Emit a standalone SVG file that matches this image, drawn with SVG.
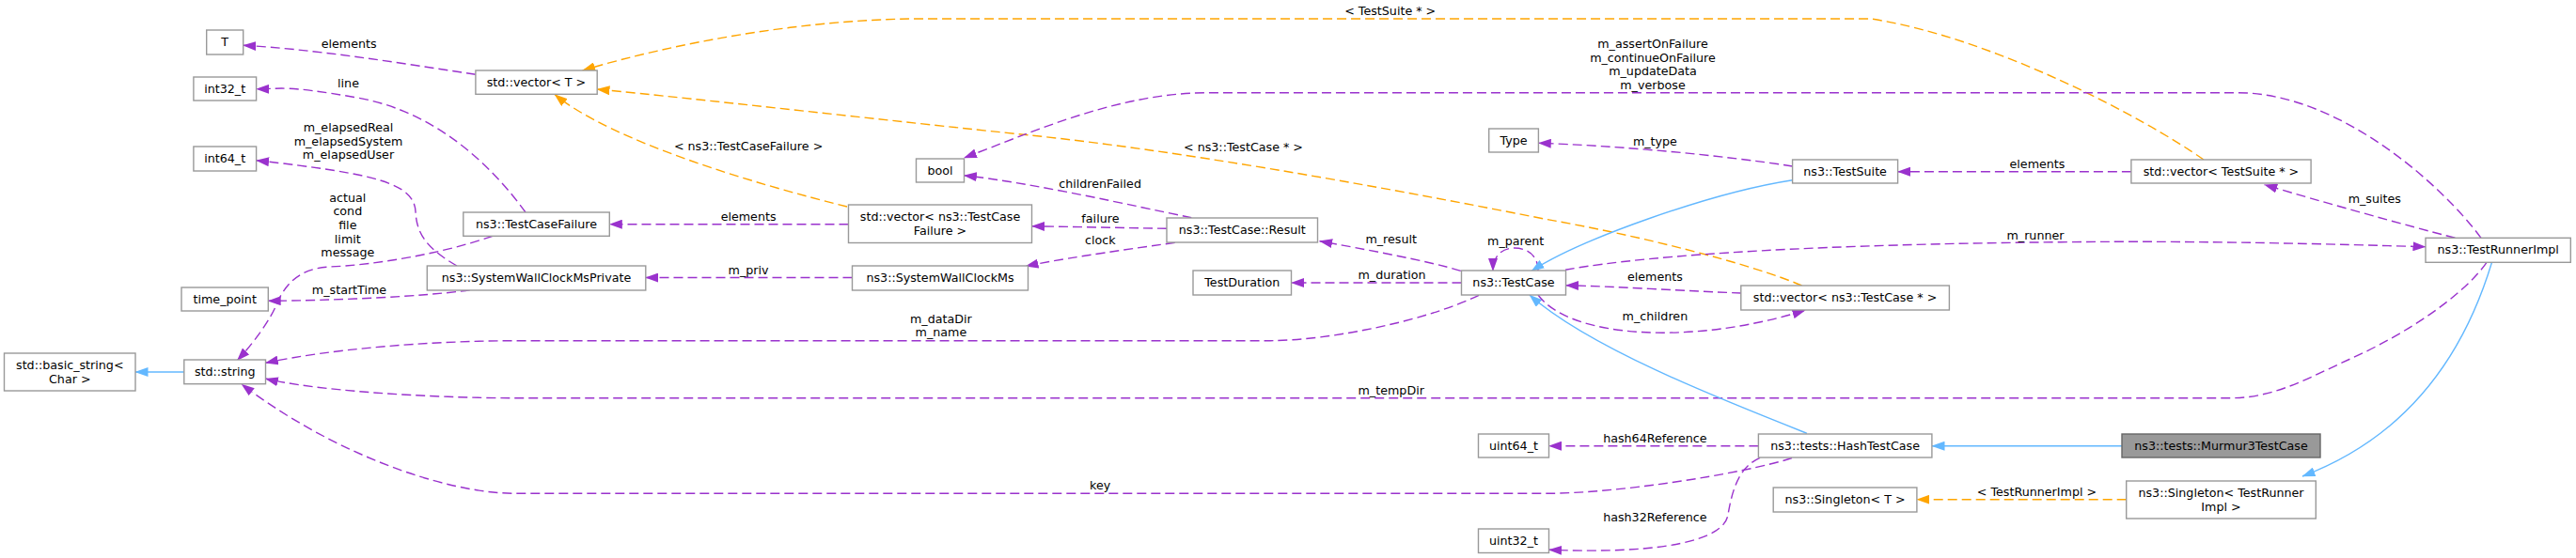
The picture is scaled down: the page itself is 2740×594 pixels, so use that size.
<svg xmlns="http://www.w3.org/2000/svg" width="2740" height="594" viewBox="0 0 2740 594">
<style>
.n rect{fill:#ffffff;stroke:#999999;stroke-width:1.4}
.hl rect{fill:#999999;stroke:#666666}
text{font-family:"DejaVu Sans","Liberation Sans",sans-serif;font-size:12.7px;fill:#000000;text-anchor:middle}
.e path{fill:none;stroke-width:1.4}
.e .p{stroke:#9a32cd;stroke-dasharray:10,5;marker-end:url(#ap)}
.e .o{stroke:#ffa500;stroke-dasharray:10,5;marker-end:url(#ao)}
.e .b{stroke:#63b8ff;marker-end:url(#ab)}
</style>
<defs>
<marker id="ap" viewBox="0 0 14 10" refX="13.5" refY="5" markerWidth="14" markerHeight="10" markerUnits="userSpaceOnUse" orient="auto"><path d="M0,0L14,5L0,10z" fill="#9a32cd"/></marker>
<marker id="ao" viewBox="0 0 14 10" refX="13.5" refY="5" markerWidth="14" markerHeight="10" markerUnits="userSpaceOnUse" orient="auto"><path d="M0,0L14,5L0,10z" fill="#ffa500"/></marker>
<marker id="ab" viewBox="0 0 14 10" refX="13.5" refY="5" markerWidth="14" markerHeight="10" markerUnits="userSpaceOnUse" orient="auto"><path d="M0,0L14,5L0,10z" fill="#63b8ff"/></marker>
</defs>
<rect width="2740" height="594" fill="#ffffff"/>
<g id="edges" class="e">
<path class="b" d="M195.8,396L144,396"/>
<path class="p" d="M505.9,79.3C420,66 330,52 258.7,48.3"/>
<path class="p" d="M559,226C520,172 460,118 380,104S300,95 272.6,94.7"/>
<path class="p" d="M486,283C455,265 443,250 442,225C440,195 400,185 272.6,170.7"/>
<path class="p" d="M524,251.3C470,270 400,282 350,284C320,286 305,300 295,322C288,340 270,365 252.3,383.7"/>
<path class="p" d="M499.8,308.7C450,316 350,320 285.2,320.3"/>
<path class="o" d="M2344,170C2280,125 2120,40 1990,20L967,20C850,22 720,45 619.6,75"/>
<path class="o" d="M1916.6,304C1860,280 1740,250 1644,233.3C1450,195 1250,160 1096,144C950,129 750,106 635,95"/>
<path class="o" d="M901,220C800,195 650,150 590,100.5"/>
<path class="p" d="M902.5,238.7L648.3,238.7"/>
<path class="p" d="M906.5,295.5L686.8,295.5"/>
<path class="p" d="M2639,253.3C2600,200 2490,98.7 2380,98.7L1285,98.7C1190,98.7 1100,140 1025.4,168"/>
<path class="p" d="M1267.3,231.7C1200,218 1100,195 1025.4,186.7"/>
<path class="p" d="M1241,243.3L1097.5,240.7"/>
<path class="p" d="M1249.8,258.3C1180,268 1120,277 1091,283.5"/>
<path class="p" d="M1553.8,288.3C1520,278 1450,265 1403.6,256.7"/>
<path class="p" d="M1554.5,301L1373.5,301"/>
<path class="p" d="M1636,288C1636,270 1622,264 1611,264C1598,264 1588,272 1588,288.5"/>
<path class="p" d="M1573,314.3C1520,340 1420,362 1351,362.7L548,362.7C450,363 350,372 282.4,386.3"/>
<path class="p" d="M2645,279.3C2620,315 2560,355 2500,382C2460,400 2420,423.7 2373.7,423.7L548,423.7C450,423.7 330,415 282.4,403"/>
<path class="p" d="M1906,487.7C1850,505 1720,525.3 1644,525.3L548,525.3C470,525 350,480 257,409"/>
<path class="b" d="M1906.6,191.7C1820,205 1680,255 1629,288.5"/>
<path class="b" d="M1922,461.3C1830,425 1690,370 1627,314"/>
<path class="p" d="M1636,314C1670,360 1800,368 1920,330.3"/>
<path class="p" d="M1851.8,312C1800,310 1720,305 1665.5,303.7"/>
<path class="p" d="M1906.6,177C1830,165 1720,155 1636.3,152.3"/>
<path class="p" d="M2266.9,182.7L2018.6,182.7"/>
<path class="p" d="M2611.4,253.3C2560,240 2470,215 2408.7,196.7"/>
<path class="p" d="M1665,287.3C1760,270 1950,260 2192,257.7C2350,256 2480,260 2580,262.7"/>
<path class="p" d="M1870.4,474.7L1647.5,474.7"/>
<path class="p" d="M1872,487.3C1848,498 1842,525 1838,548C1834,575 1770,590 1647.5,585.3"/>
<path class="b" d="M2257,474.7L2055,474.7"/>
<path class="o" d="M2261.7,531.7L2038.9,531.7"/>
<path class="b" d="M2650.5,279.3C2620,380 2560,465 2449,507"/>
</g>
<g id="edge-labels">
<text x="371.2" y="51.2">elements</text>
<text x="370.5" y="92.5">line</text>
<text x="370.5" y="140.2">m_elapsedReal</text>
<text x="370.5" y="154.8">m_elapsedSystem</text>
<text x="370.5" y="169.4">m_elapsedUser</text>
<text x="369.8" y="214.8">actual</text>
<text x="369.8" y="229.4">cond</text>
<text x="369.8" y="244">file</text>
<text x="369.8" y="258.6">limit</text>
<text x="369.8" y="273.2">message</text>
<text x="371.5" y="313.2">m_startTime</text>
<text x="796.1" y="160.2">&lt; ns3::TestCaseFailure &gt;</text>
<text x="796.1" y="234.8">elements</text>
<text x="796.1" y="291.8">m_priv</text>
<text x="1000.9" y="343.8">m_dataDir</text>
<text x="1000.9" y="358.4">m_name</text>
<text x="1478.7" y="16.2">&lt; TestSuite * &gt;</text>
<text x="1322.5" y="160.8">&lt; ns3::TestCase * &gt;</text>
<text x="1170.1" y="199.5">childrenFailed</text>
<text x="1170.4" y="236.8">failure</text>
<text x="1170.4" y="260.2">clock</text>
<text x="1479.7" y="258.8">m_result</text>
<text x="1612.2" y="261.2">m_parent</text>
<text x="1480.5" y="296.8">m_duration</text>
<text x="1479.7" y="420.2">m_tempDir</text>
<text x="1170.1" y="520.5">key</text>
<text x="1758" y="51.2">m_assertOnFailure</text>
<text x="1758" y="65.8">m_continueOnFailure</text>
<text x="1758" y="80.4">m_updateData</text>
<text x="1758" y="95">m_verbose</text>
<text x="1760.4" y="155.2">m_type</text>
<text x="2167" y="178.8">elements</text>
<text x="2165" y="255.2">m_runner</text>
<text x="1760.4" y="299">elements</text>
<text x="1760.4" y="340.8">m_children</text>
<text x="1760.4" y="470.8">hash64Reference</text>
<text x="1760.4" y="554.8">hash32Reference</text>
<text x="2166.5" y="528.2">&lt; TestRunnerImpl &gt;</text>
<text x="2525.8" y="216.2">m_suites</text>
</g>
<g id="n_basic_string" class="n"><rect x="4.5" y="376" width="139.5" height="40"/><text x="74.3" y="393">std::basic_string&lt;</text><text x="74.3" y="407.5">Char &gt;</text></g>
<g id="n_T" class="n"><rect x="219.7" y="32" width="39" height="26"/><text x="239.2" y="49">T</text></g>
<g id="n_int32" class="n"><rect x="205.9" y="82" width="66.7" height="25"/><text x="239.2" y="98.5">int32_t</text></g>
<g id="n_int64" class="n"><rect x="205.9" y="156" width="66.7" height="26"/><text x="239.2" y="173">int64_t</text></g>
<g id="n_time_point" class="n"><rect x="193" y="306" width="92.3" height="25"/><text x="239.2" y="322.5">time_point</text></g>
<g id="n_string" class="n"><rect x="195.8" y="383" width="86.7" height="25.7"/><text x="239.2" y="399.9">std::string</text></g>
<g id="n_vector_T" class="n"><rect x="505.9" y="75" width="129.3" height="25.3"/><text x="570.5" y="91.7">std::vector&lt; T &gt;</text></g>
<g id="n_TestCaseFailure" class="n"><rect x="492.8" y="226" width="155.5" height="25.3"/><text x="570.5" y="242.7">ns3::TestCaseFailure</text></g>
<g id="n_SWCMPrivate" class="n"><rect x="454.3" y="283" width="232.5" height="26"/><text x="570.5" y="300">ns3::SystemWallClockMsPrivate</text></g>
<g id="n_bool" class="n"><rect x="974.5" y="169" width="51" height="25"/><text x="1000" y="185.5">bool</text></g>
<g id="n_vector_TCF" class="n"><rect x="902.5" y="218" width="195" height="40.5"/><text x="1000" y="235">std::vector&lt; ns3::TestCase</text><text x="1000" y="249.5">Failure &gt;</text></g>
<g id="n_SWCM" class="n"><rect x="906.5" y="283" width="187" height="26"/><text x="1000" y="300">ns3::SystemWallClockMs</text></g>
<g id="n_Result" class="n"><rect x="1241" y="232" width="160.5" height="26"/><text x="1321.3" y="249">ns3::TestCase::Result</text></g>
<g id="n_TestDuration" class="n"><rect x="1269" y="288" width="104.5" height="26"/><text x="1321.3" y="305">TestDuration</text></g>
<g id="n_Type" class="n"><rect x="1583.7" y="137" width="52.7" height="25"/><text x="1610" y="153.5">Type</text></g>
<g id="n_TestCase" class="n"><rect x="1554.5" y="288" width="111" height="26"/><text x="1610" y="305">ns3::TestCase</text></g>
<g id="n_uint64" class="n"><rect x="1572.5" y="462" width="75" height="25"/><text x="1610" y="478.5">uint64_t</text></g>
<g id="n_uint32" class="n"><rect x="1572.5" y="563" width="75" height="25.5"/><text x="1610" y="579.8">uint32_t</text></g>
<g id="n_TestSuite" class="n"><rect x="1906.6" y="170" width="112" height="25"/><text x="1962.6" y="186.5">ns3::TestSuite</text></g>
<g id="n_vector_TC" class="n"><rect x="1851.8" y="304" width="221.6" height="26"/><text x="1962.6" y="321">std::vector&lt; ns3::TestCase * &gt;</text></g>
<g id="n_HashTestCase" class="n"><rect x="1870.4" y="462" width="184.5" height="25"/><text x="1962.6" y="478.5">ns3::tests::HashTestCase</text></g>
<g id="n_Singleton_T" class="n"><rect x="1886.2" y="519" width="152.7" height="26"/><text x="1962.6" y="536">ns3::Singleton&lt; T &gt;</text></g>
<g id="n_vector_TS" class="n"><rect x="2266.9" y="170" width="191.2" height="25"/><text x="2362.5" y="186.5">std::vector&lt; TestSuite * &gt;</text></g>
<g id="n_Murmur3TestCase" class="n hl"><rect x="2257" y="462" width="211" height="25"/><text x="2362.5" y="478.5">ns3::tests::Murmur3TestCase</text></g>
<g id="n_Singleton_TRI" class="n"><rect x="2261.7" y="512" width="201.6" height="40"/><text x="2362.5" y="529">ns3::Singleton&lt; TestRunner</text><text x="2362.5" y="543.5">Impl &gt;</text></g>
<g id="n_TestRunnerImpl" class="n"><rect x="2580" y="253.3" width="154.3" height="26"/><text x="2657.2" y="270.3">ns3::TestRunnerImpl</text></g>
</svg>
